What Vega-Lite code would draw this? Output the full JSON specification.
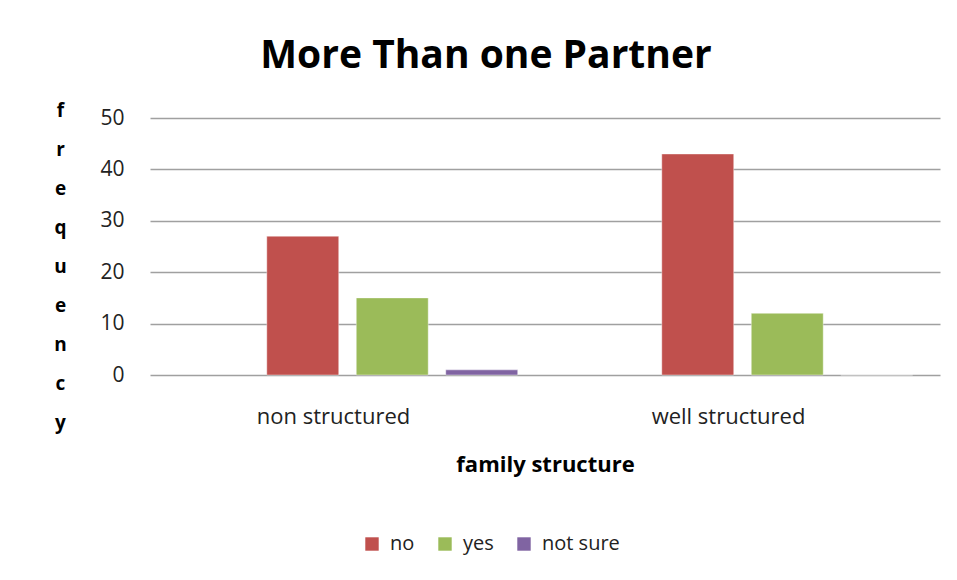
{
  "$schema": "https://vega.github.io/schema/vega-lite/v6.json",
  "width": 790,
  "height": 257,
  "autosize": {"type": "none"},
  "padding": {"left": 150, "top": 118, "right": 17, "bottom": 205},
  "background": "white",
  "title": {
    "text": "More Than one Partner",
    "font": "Open Sans",
    "fontSize": 39,
    "fontWeight": "bold",
    "color": "#000000",
    "anchor": "middle",
    "dx": -59,
    "offset": 25
  },
  "data": {
    "values": [
      {"structure": "non structured", "answer": "no", "frequency": 27},
      {"structure": "non structured", "answer": "yes", "frequency": 15},
      {"structure": "non structured", "answer": "not sure", "frequency": 1},
      {"structure": "well structured", "answer": "no", "frequency": 43},
      {"structure": "well structured", "answer": "yes", "frequency": 12},
      {"structure": "well structured", "answer": "not sure", "frequency": 0}
    ]
  },
  "mark": {"type": "bar", "stroke": "#ffffff", "strokeOpacity": 0.4, "strokeWidth": 1},
  "encoding": {
    "x": {
      "field": "structure",
      "type": "nominal",
      "sort": ["non structured", "well structured"],
      "scale": {"paddingInner": 0, "paddingOuter": 0},
      "axis": {
        "title": "family structure",
        "titleFont": "Open Sans",
        "titleFontSize": 22,
        "titleFontWeight": "bold",
        "titleColor": "#000000",
        "titlePadding": 27,
        "labelAngle": 0,
        "labelFont": "Open Sans",
        "labelFontSize": 22,
        "labelColor": "#222222",
        "labelPadding": 31,
        "labelOffset": -14,
        "domain": false,
        "ticks": false,
        "grid": false
      }
    },
    "xOffset": {
      "field": "answer",
      "type": "nominal",
      "scale": {"domain": ["_", "no", "yes", "not sure"], "paddingInner": 0.196, "paddingOuter": 0.305}
    },
    "y": {
      "field": "frequency",
      "type": "quantitative",
      "scale": {"domain": [0, 50], "nice": false},
      "axis": {
        "values": [0, 10, 20, 30, 40, 50],
        "title": ["f", "r", "e", "q", "u", "e", "n", "c", "y"],
        "titleAngle": 0,
        "titleFont": "Open Sans",
        "titleFontSize": 19,
        "titleFontWeight": "bold",
        "titleColor": "#000000",
        "titleLineHeight": 39,
        "titleAlign": "center",
        "titleBaseline": "middle",
        "titleX": -90,
        "titleY": -8,
        "labelFont": "Open Sans",
        "labelFontSize": 21,
        "labelColor": "#222222",
        "labelPadding": 26,
        "domain": false,
        "ticks": false,
        "grid": true,
        "gridColor": "#a0a0a0",
        "gridWidth": 1.3
      }
    },
    "color": {
      "field": "answer",
      "type": "nominal",
      "scale": {"domain": ["no", "yes", "not sure"], "range": ["#C0504D", "#9BBB59", "#8064A2"]},
      "legend": {
        "title": null,
        "orient": "none",
        "legendX": 212,
        "legendY": 416,
        "direction": "horizontal",
        "columns": 3,
        "symbolType": "square",
        "symbolSize": 180,
        "symbolStrokeWidth": 0,
        "labelFont": "Open Sans",
        "labelFontSize": 20,
        "labelColor": "#222222",
        "columnPadding": 20,
        "labelOffset": 8
      }
    }
  },
  "config": {"view": {"stroke": null}}
}
